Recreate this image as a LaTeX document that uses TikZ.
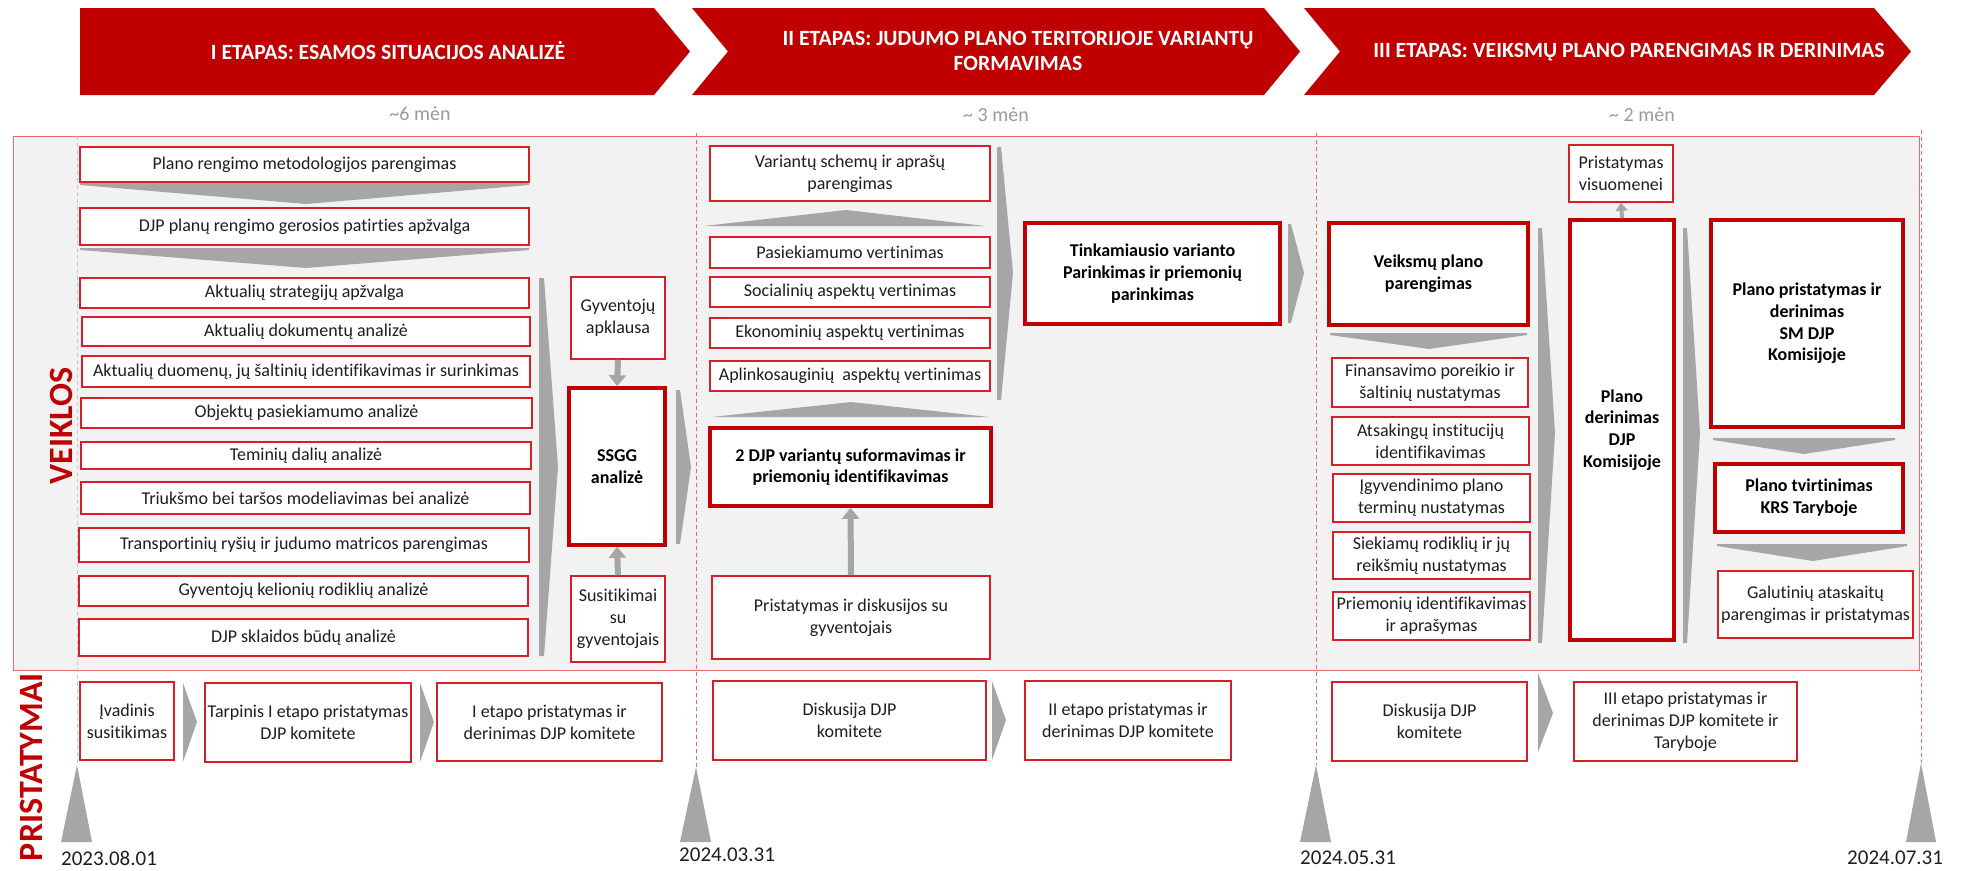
\documentclass[tikz,border=0pt]{standalone}
\usepackage{fontspec}
\setmainfont{Carlito}[Ligatures=CommonOff]
\usetikzlibrary{arrows.meta}
\definecolor{bred}{HTML}{C00000}
\definecolor{tred}{HTML}{D81E28}
\definecolor{agrey}{HTML}{A6A6A6}
\definecolor{bgrey}{HTML}{F2F2F2}
\definecolor{dred}{HTML}{E46C6C}
\definecolor{dgrey}{HTML}{C8C8C8}
\definecolor{txt}{HTML}{1E1E1E}
\definecolor{mgrey}{HTML}{9A9A9A}
\tikzset{
  thinbox/.style={draw=tred, line width=1.6pt, fill=white, inner sep=0pt, align=center,
    font=\fontsize{18}{22}\selectfont, text=txt},
  thickbox/.style={draw=bred, line width=3.6pt, fill=white, inner sep=0pt, align=center,
    font=\fontsize{18}{21.7}\selectfont\bfseries, text=black},
  chev/.style={fill=agrey, draw=none},
  banner/.style={fill=bred, draw=none},
  bannertext/.style={text=white, font=\fontsize{21.7}{25}\selectfont\bfseries, align=center},
  dur/.style={text=mgrey, font=\fontsize{20}{24}\selectfont},
  datel/.style={text=txt, font=\fontsize{21}{25}\selectfont, inner sep=0pt},
  sidelabel/.style={text=bred, font=\fontsize{34}{40}\selectfont\bfseries, rotate=90, inner sep=0pt},
  garrow/.style={draw=agrey, line width=6pt, -{Triangle[width=17pt,length=11pt]}},
  sarrow/.style={draw=agrey, line width=4pt, -{Triangle[width=12pt,length=8pt]}},
  redline/.style={draw=dred, line width=0.9pt, dash pattern=on 4pt off 3pt},
  greyline/.style={draw=dgrey, line width=0.9pt, dash pattern=on 4pt off 3pt},
  marker/.style={fill=agrey, draw=none}
}
\newcommand\mybox[7]{\node[#6, minimum width={(#4)-(#2)}, minimum height={(#5)-(#3)}] (#1) at ({((#2)+(#4))/2},{((#3)+(#5))/2}) {#7};}
\begin{document}
\begin{tikzpicture}[x=1pt,y=-1pt]
\useasboundingbox (0,0) rectangle (1964,870);
% banners
\fill[banner] (80,8) -- (654,8) -- (690,51.5) -- (654,95) -- (80,95) -- cycle;
\fill[banner] (692,8) -- (1264,8) -- (1300,51.5) -- (1264,95) -- (692,95) -- (728,51.5) -- cycle;
\fill[banner] (1304,8) -- (1874,8) -- (1911,51.5) -- (1874,95) -- (1304,95) -- (1340,51.5) -- cycle;
\node[bannertext] (b1) at (388,51) {I ETAPAS: ESAMOS SITUACIJOS ANALIZĖ};
\node[bannertext] (b2) at (1018,51) {II ETAPAS: JUDUMO PLANO TERITORIJOJE VARIANTŲ\\FORMAVIMAS};
\node[bannertext] (b3) at (1629,52) {III ETAPAS: VEIKSMŲ PLANO PARENGIMAS IR DERINIMAS};
\node[dur] (d1) at (420,114) {\textasciitilde6 mėn};
\node[dur] (d2) at (996,115) {\textasciitilde\ 3 mėn};
\node[dur] (d3) at (1642,115) {\textasciitilde\ 2 mėn};
% grey panel
\draw[fill=bgrey, draw=dred, line width=1pt] (13,136) rectangle (1919,670);
% dashed lines
\draw[greyline] (77,136) -- (77,765);
\draw[redline] (696,133) -- (696,767);
\draw[redline] (1316,133) -- (1316,765);
\draw[redline] (1921,130) -- (1921,763);
% timeline markers
\fill[marker] (77,765) -- (92,842) -- (61,842) -- cycle;
\fill[marker] (696,767) -- (711,842) -- (680,842) -- cycle;
\fill[marker] (1316,765) -- (1331,842) -- (1300,842) -- cycle;
\fill[marker] (1921,763) -- (1936,842) -- (1906,842) -- cycle;
\node[datel, anchor=west] (t1) at (61,858) {2023.08.01};
\node[datel, anchor=west] (t2) at (679,855) {2024.03.31};
\node[datel, anchor=west] (t3) at (1300,858) {2024.05.31};
\node[datel, anchor=west] (t4) at (1847,858) {2024.07.31};
% side labels
\node[sidelabel] (veik) at (61,426) {VEIKLOS};
\node[sidelabel] (prist) at (31,767) {PRISTATYMAI};
% chevrons column I
\fill[chev] (80,183) -- (529,183) -- (529,185) -- (306,204) -- (80,185) -- cycle;
\fill[chev] (80,248) -- (529,248) -- (529,250) -- (306,268) -- (80,250) -- cycle;
\fill[chev] (539,278) -- (544,278) -- (558,467) -- (544,656) -- (539,656) -- cycle;
\fill[chev] (676,390) -- (680,390) -- (691,467) -- (680,544) -- (676,544) -- cycle;
% chevrons column II
\fill[chev] (704,226) -- (846,210) -- (985,226) -- cycle;
\fill[chev] (712,417) -- (851,402) -- (989,417) -- cycle;
\fill[chev] (997,147) -- (1001,147) -- (1013,273) -- (1001,400) -- (997,400) -- cycle;
\fill[chev] (1288,224) -- (1291,224) -- (1304,273) -- (1291,323) -- (1288,323) -- cycle;
% chevrons column III
\fill[chev] (1330,333) -- (1527,333) -- (1527,335) -- (1429,349) -- (1330,335) -- cycle;
\fill[chev] (1538,228) -- (1542,228) -- (1555,433) -- (1542,643) -- (1538,643) -- cycle;
\fill[chev] (1683,228) -- (1687,228) -- (1700,433) -- (1687,643) -- (1683,643) -- cycle;
\fill[chev] (1713,438) -- (1895,438) -- (1895,440) -- (1804,454) -- (1713,440) -- cycle;
\fill[chev] (1717,544) -- (1907,544) -- (1907,546) -- (1813,561) -- (1717,546) -- cycle;
% chevrons bottom
\fill[chev] (183,683) -- (197,722) -- (183,762) -- cycle;
\fill[chev] (420,683) -- (434,722) -- (420,762) -- cycle;
\fill[chev] (992,681) -- (1006,720) -- (992,760) -- cycle;
\fill[chev] (1538,673) -- (1553,713) -- (1538,752) -- cycle;
% column I boxes
\mybox{a1}{80}{147}{529}{182}{thinbox}{Plano rengimo metodologijos parengimas}
\mybox{a2}{80}{208}{529}{245}{thinbox}{DJP planų rengimo gerosios patirties apžvalga}
\mybox{a3}{80}{278}{529}{308}{thinbox}{Aktualių strategijų apžvalga}
\mybox{a4}{82}{317}{530}{346}{thinbox}{Aktualių dokumentų analizė}
\mybox{a5}{82}{356}{530}{387}{thinbox}{Aktualių duomenų, jų šaltinių identifikavimas ir surinkimas}
\mybox{a6}{81}{398}{532}{428}{thinbox}{Objektų pasiekiamumo analizė}
\mybox{a7}{81}{442}{531}{469}{thinbox}{Teminių dalių analizė}
\mybox{a8}{81}{482}{530}{514}{thinbox}{Triukšmo bei taršos modeliavimas bei analizė}
\mybox{a9}{79}{528}{529}{562}{thinbox}{Transportinių ryšių ir judumo matricos parengimas}
\mybox{a10}{79}{576}{528}{606}{thinbox}{Gyventojų kelionių rodiklių analizė}
\mybox{a11}{79}{619}{528}{656}{thinbox}{DJP sklaidos būdų analizė}
% SSGG
\mybox{apk}{571}{277}{665}{359}{thinbox}{Gyventojų\\apklausa}
\mybox{ssgg}{569}{388}{665}{545}{thickbox}{SSGG\\analizė}
\mybox{sus}{571}{576}{665}{662}{thinbox}{Susitikimai\\su\\gyventojais}
\draw[garrow] (apk.south) -- (ssgg.north);
\draw[garrow] (sus.north) -- (ssgg.south);
% column II
\mybox{v1}{710}{146}{990}{201}{thinbox}{Variantų schemų ir aprašų\\parengimas}
\mybox{v2}{710}{237}{990}{268}{thinbox}{Pasiekiamumo vertinimas}
\mybox{v3}{710}{277}{990}{307}{thinbox}{Socialinių aspektų vertinimas}
\mybox{v4}{710}{318}{990}{348}{thinbox}{Ekonominių aspektų vertinimas}
\mybox{v5}{710}{361}{990}{391}{thinbox}{Aplinkosauginių\ \ aspektų vertinimas}
\mybox{v6}{710}{428}{991}{506}{thickbox}{2 DJP variantų suformavimas ir\\priemonių identifikavimas}
\mybox{v7}{712}{576}{990}{659}{thinbox}{Pristatymas ir diskusijos su\\gyventojais}
\draw[garrow] (v7.north) -- (v6.south);
\mybox{tink}{1025}{223}{1280}{324}{thickbox}{Tinkamiausio varianto\\Parinkimas ir priemonių\\parinkimas}
% column III
\mybox{vis}{1569}{145}{1673}{202}{thinbox}{Pristatymas\\visuomenei}
\mybox{vp}{1329}{223}{1528}{325}{thickbox}{Veiksmų plano\\parengimas}
\mybox{c1}{1332}{358}{1528}{407}{thinbox}{Finansavimo poreikio ir\\šaltinių nustatymas}
\mybox{c2}{1332}{417}{1529}{465}{thinbox}{Atsakingų institucijų\\identifikavimas}
\mybox{c3}{1333}{474}{1530}{522}{thinbox}{Įgyvendinimo plano\\terminų nustatymas}
\mybox{c4}{1333}{532}{1530}{579}{thinbox}{Siekiamų rodiklių ir jų\\reikšmių nustatymas}
\mybox{c5}{1333}{592}{1530}{640}{thinbox}{Priemonių identifikavimas\\ir aprašymas}
\mybox{der}{1570}{220}{1674}{640}{thickbox}{Plano\\derinimas\\DJP\\Komisijoje}
\draw[sarrow] (der.north) -- (vis.south);
\mybox{sm}{1711}{220}{1903}{427}{thickbox}{Plano pristatymas ir\\derinimas\\SM DJP\\Komisijoje}
\mybox{tv}{1715}{464}{1903}{532}{thickbox}{Plano tvirtinimas\\KRS Taryboje}
\mybox{gal}{1718}{571}{1913}{638}{thinbox}{Galutinių ataskaitų\\parengimas ir pristatymas}
% bottom row
\mybox{p1}{80}{682}{174}{760}{thinbox}{Įvadinis\\susitikimas}
\mybox{p2}{205}{683}{411}{762}{thinbox}{Tarpinis I etapo pristatymas\\DJP komitete}
\mybox{p3}{437}{683}{662}{761}{thinbox}{I etapo pristatymas ir\\derinimas DJP komitete}
\mybox{p4}{713}{681}{986}{760}{thinbox}{Diskusija DJP\\komitete}
\mybox{p5}{1025}{681}{1231}{760}{thinbox}{II etapo pristatymas ir\\derinimas DJP komitete}
\mybox{p6}{1332}{682}{1527}{761}{thinbox}{Diskusija DJP\\komitete}
\mybox{p7}{1574}{682}{1797}{761}{thinbox}{III etapo pristatymas ir\\derinimas DJP komitete ir\\Taryboje}
\end{tikzpicture}
\end{document}
